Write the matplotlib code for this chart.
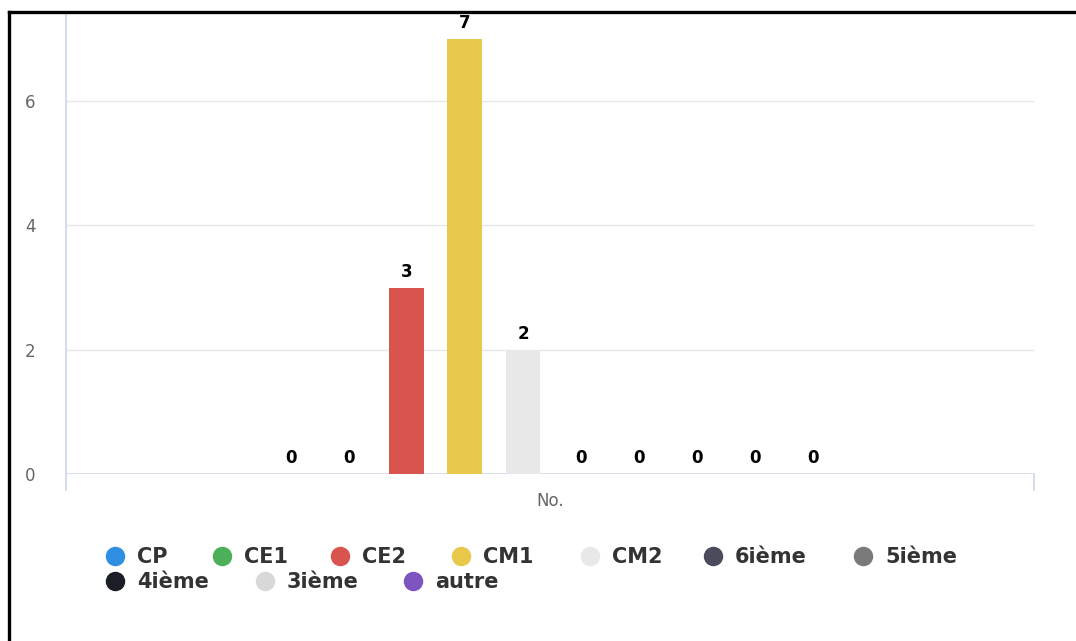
import matplotlib
matplotlib.use("Agg")
import matplotlib.pyplot as plt
from matplotlib.lines import Line2D

categories = ["No."]
series_names = ["CP", "CE1", "CE2", "CM1", "CM2", "6ième", "5ième", "4ième", "3ième", "autre"]
series_values = [0, 0, 3, 7, 2, 0, 0, 0, 0, 0]
series_colors = ["#2f8fe3", "#4cb05a", "#d9534f", "#e8c84a", "#e8e8e8",
                 "#4b4b5e", "#7a7a7a", "#1b1e26", "#d8d8d8", "#7e55c0"]
yticks = [0, 2, 4, 6]

W, H = 1076, 641
fig = plt.figure(figsize=(W / 100, H / 100), dpi=100)
fig.patch.set_facecolor("white")

def fx(px):
    return px / W

def fy(py):
    return 1 - py / H

ax_left, ax_right, ax_top, ax_bottom = 66, 1034, 13, 474
ax = fig.add_axes([fx(ax_left), fy(ax_bottom), fx(ax_right - ax_left), (ax_bottom - ax_top) / H])
unit = (474 - 101) / 6.0
ax.set_ylim(0, (ax_bottom - ax_top) / unit)
ax.set_xlim(-0.5, 0.5)

n = len(series_names)
group_pad = 0.2
slot = (1 - 2 * group_pad) / n
bar_w = slot * 0.6
group_shift = 2.0 / (ax_right - ax_left)
for i, (name, val, col) in enumerate(zip(series_names, series_values, series_colors)):
    x = -0.5 + group_pad + slot * (i + 0.5) + group_shift
    ax.bar(x, val, width=bar_w, color=col, zorder=3)
    ax.annotate(str(val), (x, val), xytext=(0, 5), textcoords="offset points",
                ha="center", va="bottom", fontsize=12, fontweight="bold", color="black", zorder=4)

ax.set_yticks(yticks)
ax.set_yticklabels([str(t) for t in yticks], fontsize=12, color="#666666")
ax.tick_params(axis="y", length=0, pad=22)
ax.set_xticks([0])
ax.set_xticklabels(categories, fontsize=12, color="#666666")
ax.tick_params(axis="x", length=0, pad=13)
for t in yticks[1:]:
    ax.axhline(t, color="#e6e6e6", lw=1, zorder=1)
for s in ["top", "right", "bottom", "left"]:
    ax.spines[s].set_visible(False)
ax.axhline(0, color="#ccd6eb", lw=1.2, zorder=2)
fig.add_artist(Line2D([fx(66), fx(66)], [fy(490), fy(13)], color="#ccd6eb", lw=1.2))
fig.add_artist(Line2D([fx(1034), fx(1034)], [fy(490), fy(474)], color="#ccd6eb", lw=1.2))

# border (left & top)
fig.add_artist(Line2D([fx(8.5), fx(8.5)], [fy(11.5), 0], color="black", lw=2.4))
fig.add_artist(Line2D([fx(8.5), 1], [fy(11.5), fy(11.5)], color="black", lw=2.4))

# legend
legend_pos = [(115, 556), (222, 556), (340, 556), (461, 556), (590, 556), (713, 556), (863, 556),
              (115, 581), (265, 581), (413, 581)]
for (px, py), name, col in zip(legend_pos, series_names, series_colors):
    fig.add_artist(Line2D([fx(px)], [fy(py)], marker="o", markersize=13, color=col, lw=0))
    fig.text(fx(px + 22), fy(py + 1), name, fontsize=15, fontweight="bold", color="#333333",
             ha="left", va="center")

fig.savefig("out.png", dpi=100)
